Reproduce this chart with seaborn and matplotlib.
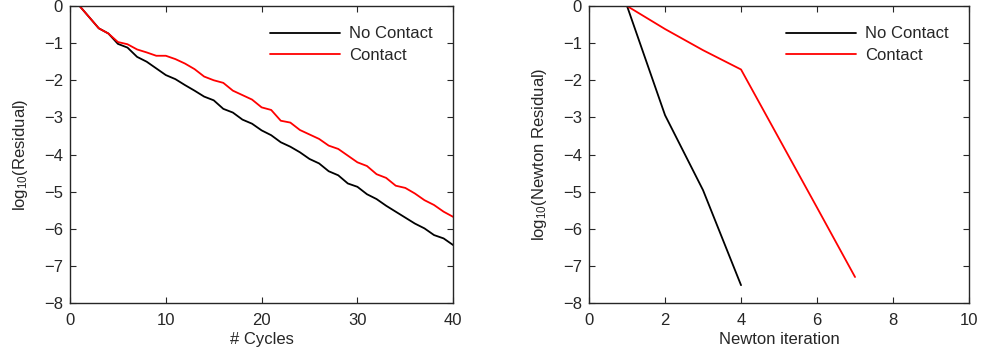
import numpy as np
import pandas as pd
import seaborn as sns
import matplotlib
matplotlib.use("Agg")
import matplotlib.pyplot as plt

# multigrid cycles (left panel)
cycles = list(range(1, 41))
res_no_contact = [0.0, -0.30, -0.60, -0.74, -1.02, -1.12, -1.37, -1.50, -1.68, -1.86,
                  -1.97, -2.13, -2.28, -2.44, -2.54, -2.77, -2.87, -3.06, -3.17, -3.35,
                  -3.48, -3.67, -3.79, -3.94, -4.12, -4.24, -4.45, -4.56, -4.78, -4.87,
                  -5.07, -5.20, -5.38, -5.54, -5.70, -5.86, -5.99, -6.17, -6.26, -6.44]
res_contact = [0.0, -0.30, -0.60, -0.74, -0.97, -1.03, -1.17, -1.25, -1.34, -1.34,
               -1.43, -1.55, -1.70, -1.90, -2.00, -2.07, -2.28, -2.40, -2.52, -2.73,
               -2.80, -3.09, -3.14, -3.34, -3.46, -3.58, -3.76, -3.85, -4.03, -4.21,
               -4.31, -4.53, -4.63, -4.84, -4.90, -5.05, -5.23, -5.36, -5.54, -5.68]

# newton iterations (right panel)
newton_it_no = [1, 2, 3, 4]
newton_res_no = [0.0, -2.94, -4.96, -7.52]
newton_it_c = [1, 2, 3, 4, 5, 6, 7]
newton_res_c = [0.0, -0.62, -1.19, -1.71, -3.57, -5.43, -7.30]

labels = ["No Contact", "Contact"]
colors = {"No Contact": "black", "Contact": "#ff0000"}

df_cyc = pd.DataFrame({
    "x": cycles + cycles,
    "y": res_no_contact + res_contact,
    "case": [labels[0]] * len(cycles) + [labels[1]] * len(cycles),
})
df_newt = pd.DataFrame({
    "x": newton_it_no + newton_it_c,
    "y": newton_res_no + newton_res_c,
    "case": [labels[0]] * len(newton_it_no) + [labels[1]] * len(newton_it_c),
})

sns.set_theme(style="ticks")
plt.rcParams['font.family'] = ['Liberation Sans', 'DejaVu Sans']
plt.rcParams['mathtext.fontset'] = 'custom'
plt.rcParams['mathtext.rm'] = 'Liberation Sans'
plt.rcParams['mathtext.it'] = 'Liberation Sans:italic'
plt.rcParams['font.size'] = 12
plt.rcParams['axes.linewidth'] = 1.0
plt.rcParams['xtick.direction'] = 'in'
plt.rcParams['ytick.direction'] = 'in'
plt.rcParams['xtick.top'] = True
plt.rcParams['ytick.right'] = True
plt.rcParams['xtick.major.size'] = 4
plt.rcParams['ytick.major.size'] = 4

fig = plt.figure(figsize=(9.85, 3.58), dpi=100)
ax1 = fig.add_axes([0.0711, 0.1536, 0.389, 0.8296])
ax2 = fig.add_axes([0.598, 0.1536, 0.3858, 0.8296])

sns.lineplot(data=df_cyc, x="x", y="y", hue="case", palette=colors, ax=ax1, lw=1.3)
sns.lineplot(data=df_newt, x="x", y="y", hue="case", palette=colors, ax=ax2, lw=1.3)

ax1.set_xlim(0, 40)
ax1.set_xticks([0, 10, 20, 30, 40])
ax1.set_xlabel("# Cycles", fontsize=12, labelpad=3)
ax1.set_ylabel(r"log$_{10}$(Residual)", fontsize=12, labelpad=10)

ax2.set_xlim(0, 10)
ax2.set_xticks([0, 2, 4, 6, 8, 10])
ax2.set_xlabel("Newton iteration", fontsize=12, labelpad=3)
ax2.set_ylabel(r"log$_{10}$(Newton Residual)", fontsize=12, labelpad=10)

for ax in (ax1, ax2):
    ax.set_ylim(-8, 0)
    ax.set_yticks(range(-8, 1))
    ax.tick_params(labelsize=12, width=0.8)
    ax.tick_params(axis="x", pad=7)
    ax.tick_params(axis="y", pad=5)
    for s in ax.spines.values():
        s.set_visible(True)
        s.set_linewidth(1.0)
    leg = ax.legend(loc="upper right", frameon=False, handlelength=4.2,
                    handletextpad=0.55, fontsize=12, borderaxespad=0.82,
                    labelspacing=0.37)
    leg.set_title(None)

fig.savefig("out.png", dpi=100)
